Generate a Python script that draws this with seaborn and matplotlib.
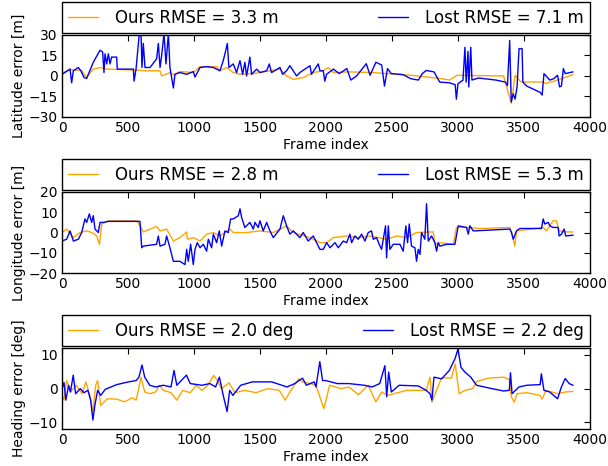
import matplotlib
matplotlib.use("Agg")
import matplotlib.pyplot as plt
import seaborn as sns
import numpy as np

# ---- latitude error [m] ----
lat_ours_x = [0, 61, 86, 149, 167, 187, 237, 288, 339, 591, 616, 743, 755, 818, 844, 894, 995,
              1046, 1172, 1197, 1248, 1298, 1349, 1450, 1500, 1652, 1702, 1753, 1828, 1904, 1980,
              2018, 2057, 2174, 2350, 2467, 2643, 2760, 2877, 2936, 2995, 3347, 3405, 3434, 3478,
              3639, 3668, 3756, 3873]
lat_ours_y = [1.8, 5, 4.2, 4.2, 1.2, -0.8, 5, 6.2, 5, 4.2, 3.8, 3.8, 0, 2.5, 0.8, 3.2, 2.5,
              6.8, 6.8, 3.8, 6.2, 2.5, 1.2, 1.8, 2.5, 5, 0, -2.5, -1.2, 2.5, 3.8,
              6.2, 2.5, 3, 2.5, 1.7, 0.5, -0.7, -2, -3, 0.5, 0, -20, 0.5, -4.4,
              -4.4, -5.6, -3, 1]
lat_lost_x = [0, 61, 73, 86, 124, 142, 167, 187, 212, 237, 288, 308, 318, 326, 339, 351, 364, 376,
              414, 419, 541, 546, 561, 586, 599, 606, 616, 629, 667, 717, 730, 743, 755, 773, 788,
              806, 818, 844, 856, 894, 945, 995, 1008, 1046, 1096, 1147, 1197, 1222, 1235, 1253,
              1265, 1298, 1323, 1349, 1369, 1386, 1399, 1424, 1437, 1475, 1500, 1551, 1571, 1588,
              1652, 1672, 1702, 1727, 1778, 1803, 1879, 1891, 1942, 1955, 1980, 1992, 2005, 2057,
              2101, 2159, 2189, 2233, 2306, 2335, 2379, 2423, 2444, 2467, 2496, 2584, 2643, 2701,
              2731, 2760, 2819, 2863, 2936, 2980, 2989, 3001, 3039, 3054, 3063, 3077, 3083, 3098,
              3107, 3157, 3288, 3361, 3376, 3393, 3405, 3420, 3434, 3449, 3464, 3487, 3493, 3522,
              3624, 3639, 3653, 3697, 3727, 3756, 3771, 3785, 3800, 3814, 3873]
lat_lost_y = [1.2, 5, -5, 3.8, 6.2, 3.8, -1.2, -1.8, 4.2, 10, 18.8, 17.5, 2.5, 16.2, 8.8, 16.2, 8.8, 13.8,
              13.8, 5, 5, -3.8, 5, 31, 31, 6.2, 23.8, 6.2, 6.2, 12.5, 23.8, 6.2, 15, 31, 8.8,
              31, 6.2, -8.8, 1.2, 2.5, 1.2, 3.2, -0.8, 6.2, 6.8, 6.2, 3.8, 11.2, 16.2, 23.8,
              6.2, 8.8, 2.5, 11.2, 1.2, 10, 0, 13.8, 1.2, 5, 2.5, 3.8, 8.8, 2.5,
              6.2, 1.2, 3.8, 7.5, 0, 2.5, 7.5, 1.2, 8.8, 3.8, 3.8, -3.8, 1.2, 5,
              1.7, 5.4, -3, 0, 9, 0.5, 10, 8, -7.4, 5.4, 1.7, 1, -2, -3,
              1.7, 4, 3, -4.5, -5, -6.4, -17, -5.7, -3, 21, -4.5, 18, -8, 21,
              -3, -1.5, -3, -4.5, -7, 26, -19, -13, -17, -8, 20, 20, -4.5, -7.4,
              -12, -14, 1.7, -3, -2, 0.5, -8, -7.4, 5.4, 1.7, 3]

# ---- longitude error [m] ----
lon_ours_x = [0, 35, 86, 136, 187, 225, 263, 283, 301, 351, 566, 591, 616, 667, 717, 743, 793, 844,
              894, 945, 950, 995, 1046, 1096, 1147, 1197, 1273, 1298, 1399, 1500, 1601, 1702, 1753,
              1879, 1955, 2006, 2056, 2157, 2258, 2334, 2460, 2536, 2612, 2687, 2814, 2826, 2839,
              2864, 2965, 2990, 3066, 3167, 3394, 3414, 3432, 3445, 3647, 3672, 3723, 3748, 3768,
              3824, 3874]
lon_ours_y = [0, 1.7, -2.5, 0, 0.8, 0, -1.7, -5.8, 4.2, 5.8, 5.8, 3.3, 0.3, 1.7, 3, 0.8, 1.7, -4.2,
              -2.5, 0.3, -3.3, -2.5, -4.2, -0.8, 0, -1.7, 1.7, 0, 0, 0.8, 0, 3.3, 0,
              -2.5, -5, -5, -2.5, -1.7, -2.5, -1.7, -3.3, -1.7, -2.5, 0, 0.3, -5, -5.8,
              -5, -5.8, 2.5, 2.5, 2, 2.5, -1.7, -6.7, 0.8, 2.5, 0.8, 5.8, 5.8, 0.8,
              0.3, 0.3]
lon_lost_x = [0, 35, 61, 86, 124, 149, 174, 187, 207, 225, 237, 250, 275, 288, 313, 351, 591, 604,
              616, 717, 730, 743, 780, 793, 818, 844, 894, 932, 945, 957, 975, 995, 1008, 1025,
              1046, 1071, 1096, 1109, 1134, 1147, 1172, 1192, 1210, 1235, 1260, 1278, 1298, 1336,
              1349, 1361, 1386, 1424, 1450, 1462, 1487, 1500, 1525, 1551, 1576, 1601, 1652, 1677,
              1702, 1727, 1753, 1803, 1828, 1866, 1904, 1955, 1980, 2006, 2031, 2069, 2094, 2132,
              2157, 2182, 2195, 2220, 2245, 2271, 2296, 2321, 2346, 2359, 2384, 2404, 2422, 2452,
              2460, 2473, 2485, 2511, 2561, 2586, 2606, 2619, 2632, 2649, 2675, 2687, 2700, 2713,
              2725, 2750, 2763, 2776, 2801, 2826, 2839, 2851, 2864, 2915, 2978, 3003, 3066, 3079,
              3091, 3117, 3394, 3407, 3420, 3445, 3470, 3634, 3647, 3659, 3685, 3697, 3723, 3760,
              3768, 3786, 3806, 3818, 3874]
lon_lost_y = [-4.2, -3.3, 0.8, -4.2, -3.3, 0, 6.7, 5, 9.2, 5, 8.3, 1.7, 0, 5, 5, 5.5, 5.5, -7.5,
              -6.7, -5.8, -1.7, -6.7, -5.8, -1.7, -7.5, -14.2, -14.2, -15.8, -8.3, -14.2, -5.8, -15.8, -8.3, -5,
              -7.5, -5.8, -9.2, -3.3, -7.5, -0.8, -5, 0.8, -6.7, 0.8, 0, 6.7, 6.7, 8.3,
              11.7, 7.5, 2.5, 5, 1.7, 5, 2.5, 5.8, 0.8, 5, 0.8, -2.5, 1.7, 8.3,
              3.3, -0.8, 0.8, -2.5, 0, -4.2, -1.7, -8.3, -8.3, -5, -7.5, -5, -7.5, -4.2,
              -5, -0.8, -5, -1.7, -3.3, -0.8, -4.2, 0, 0.8, -3.3, -2.5, -5.8, -8.3, 3.3,
              -12.5, 3.3, -8.3, -5.8, -5.8, -9.2, 3.3, -5, 4.2, -6.7, -7.5, -14.2, -8.3, -10.8,
              0, -3.3, 14.2, -4.2, -1.7, -5, -9.2, -5, -6.7, -5.8, -5.8, 3.3, 2.5, -0.8,
              3.3, 0.8, 1.7, 0, -3.3, 0.8, 2, 2, 6.7, 4.2, 5, 3.3, 2.5, 2.5,
              -1.7, -0.8, 1.7, -1.7, -1.3]

# ---- heading error [deg] ----
hdg_ours_x = [0, 15, 35, 64, 108, 152, 181, 211, 234, 255, 270, 293, 343, 415, 475, 533, 562, 577,
              598, 627, 665, 709, 738, 768, 826, 870, 914, 972, 1017, 1060, 1105, 1149, 1178, 1208,
              1266, 1310, 1383, 1471, 1559, 1647, 1691, 1735, 1793, 1823, 1881, 1925, 1954, 1984,
              1998, 2028, 2116, 2174, 2247, 2320, 2379, 2423, 2467, 2613, 2760, 2789, 2804, 2833,
              2877, 2951, 2980, 3010, 3054, 3113, 3142, 3230, 3347, 3390, 3405, 3428, 3449, 3522,
              3624, 3639, 3668, 3756, 3814, 3873]
hdg_ours_y = [-2, -3.4, 2.4, -1, 1, -1.5, 2, -2, -6.8, 1, 2.4, -5, -3, -3.1, -3.9, -2.7, -3.4, -0.8,
              3.4, -1, -1.5, -1, 1, -0.5, -1.2, -3.4, -0.5, -1.2, 1, -0.5, 1, 3.9, 2.4, 0,
              1.7, -1.2, -0.5, -1.2, 0, -0.5, -3.4, -0.5, 2.9, 2, 1.5, 1, -2.4, -5.9,
              -3.9, 1, 0, 0.5, -1.8, 1, -3.9, -1, -2, -0.5, -0.5, 3.4, -4, -1,
              3.2, 3.1, 7.3, -1.5, -0.5, 0, 2.1, 3.1, 3.4, 2.7, -2.4, -4, -1.5, -1.2,
              -2, -3.1, -0.5, -1.5, -1, -0.8]
hdg_lost_x = [0, 15, 29, 50, 64, 85, 103, 138, 167, 196, 217, 234, 249, 270, 293, 328, 415, 504,
              562, 583, 606, 627, 665, 709, 768, 826, 849, 870, 943, 972, 1060, 1120, 1164, 1193,
              1222, 1251, 1271, 1295, 1354, 1442, 1589, 1705, 1764, 1823, 1852, 1911, 1925, 1954,
              1975, 1998, 2086, 2174, 2291, 2350, 2408, 2447, 2461, 2476, 2496, 2555, 2701, 2760,
              2789, 2804, 2819, 2877, 2936, 2980, 3001, 3024, 3054, 3098, 3142, 3259, 3347, 3390,
              3399, 3411, 3464, 3522, 3624, 3633, 3653, 3697, 3756, 3785, 3814, 3844, 3873]
hdg_lost_y = [0, 1.8, -3.4, 1, -1, 4, -1.5, 0, -1.2, -0.5, -3.4, -9.3, -4.9, -0.5, -2, -0.2, 1.2, 2,
              2.4, 3.4, 7, 3.4, 1, 0.5, 1, 0.5, 5.4, 1, 4, 1.5, 1, 1.5, 0.5, 3.4,
              -2, -6.8, -0.5, -2, 1, 2, 2, 0.5, 1.5, 3.1, 1, 2, 0.5, 8,
              2.4, 2.4, 1.5, 1.5, 1, 0.5, 1.5, 6.8, -2.4, 4.9, -1, 1, 0.8, -0.5,
              -1.5, -3.4, 3.4, 2.9, 5.4, 9, 11.7, 6.3, 4.9, 3.4, 1, 0, -0.7, -0.5,
              4.7, -1.5, 0.5, 1, 1.2, 4.4, -0.5, -1, -3, 0.5, 3, 1.5, 1]

panels = [
    (lat_ours_x, lat_ours_y, lat_lost_x, lat_lost_y, "Latitude error [m]",
     "Ours RMSE = 3.3 m", "Lost RMSE = 7.1 m", (-30, 30), [-30, -15, 0, 15, 30]),
    (lon_ours_x, lon_ours_y, lon_lost_x, lon_lost_y, "Longitude error [m]",
     "Ours RMSE = 2.8 m", "Lost RMSE = 5.3 m", (-20, 20), [-20, -10, 0, 10, 20]),
    (hdg_ours_x, hdg_ours_y, hdg_lost_x, hdg_lost_y, "Heading error [deg]",
     "Ours RMSE = 2.0 deg", "Lost RMSE = 2.2 deg", (-12, 12), [-10, 0, 10]),
]

sns.set_style("white")
plt.rcParams.update({
    "font.family": ["DejaVu Sans"],
    "xtick.direction": "in",
    "ytick.direction": "in",
    "xtick.top": True,
    "ytick.right": True,
    "xtick.major.size": 4,
    "ytick.major.size": 4,
    "xtick.color": "black",
    "ytick.color": "black",
    "axes.edgecolor": "black",
    "axes.linewidth": 1.0,
    "text.color": "black",
    "axes.labelcolor": "black",
})

fig = plt.figure(figsize=(6.08, 4.66), dpi=100)
# axes boxes in figure fractions (left, bottom, width, height)
boxes = [
    (0.102, 0.749, 0.868, 0.176),
    (0.102, 0.414, 0.868, 0.174),
    (0.102, 0.079, 0.868, 0.174),
]

for box, (ox, oy, lx, ly, ylab, lab_o, lab_l, ylim, yticks) in zip(boxes, panels):
    ax = fig.add_axes(box)
    sns.lineplot(x=ox, y=oy, color="orange", linewidth=1.0, label=lab_o, ax=ax,
                 estimator=None, sort=False)
    sns.lineplot(x=lx, y=ly, color="blue", linewidth=1.0, label=lab_l, ax=ax,
                 estimator=None, sort=False)
    ax.set_xlim(0, 4000)
    ax.set_ylim(*ylim)
    ax.set_xticks(np.arange(0, 4001, 500))
    ax.set_yticks(yticks)
    ax.tick_params(labelsize=10, pad=3)
    ax.set_xlabel("Frame index", fontsize=10, labelpad=2)
    ax.set_ylabel(ylab, fontsize=10, labelpad=2)
    leg = ax.legend(loc="lower left", bbox_to_anchor=(0, 1.025, 1, 0.1), mode="expand", ncol=2,
                    borderaxespad=0, fontsize=12, handlelength=1.8, handletextpad=1.0,
                    borderpad=0.38, fancybox=False, framealpha=1, edgecolor="black")
    leg.get_frame().set_linewidth(1.0)

fig.savefig("out.png", dpi=100)
